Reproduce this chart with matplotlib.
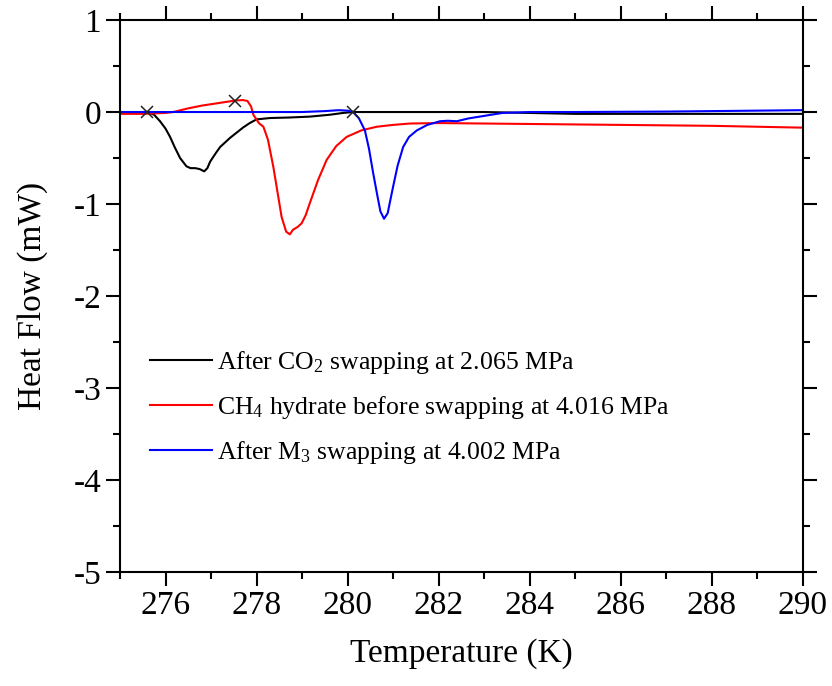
import matplotlib
matplotlib.use("Agg")
import matplotlib.pyplot as plt
from matplotlib.ticker import MultipleLocator

plt.rcParams['font.family'] = ['Liberation Serif', 'DejaVu Serif']
plt.rcParams['mathtext.fontset'] = 'custom'
plt.rcParams['mathtext.rm'] = 'Liberation Serif'
plt.rcParams['mathtext.it'] = 'Liberation Serif:italic'
plt.rcParams['axes.unicode_minus'] = False

# --- data ---
t_co2 = [275.0, 275.3, 275.6, 275.75, 275.88, 276.0, 276.1, 276.2, 276.32, 276.46,
         276.55, 276.65, 276.75, 276.85, 276.92, 276.98, 277.1, 277.2, 277.42, 277.7,
         277.85, 278.0, 278.3, 278.7, 279.17, 279.6, 279.9, 280.12, 281.0, 283.0,
         284.0, 285.0, 290.0]
hf_co2 = [0.0, 0.0, 0.0, -0.03, -0.1, -0.18, -0.27, -0.38, -0.5, -0.59,
          -0.61, -0.61, -0.62, -0.645, -0.61, -0.54, -0.45, -0.38, -0.28, -0.17,
          -0.12, -0.08, -0.065, -0.06, -0.05, -0.03, -0.01, 0.0, 0.0, 0.0,
          -0.01, -0.02, -0.02]

t_ch4 = [275.0, 275.5, 276.0, 276.17, 276.5, 276.8, 277.2, 277.53, 277.7, 277.8,
         277.88, 277.93, 278.05, 278.15, 278.25, 278.37, 278.47, 278.55, 278.65, 278.73,
         278.8, 278.9, 278.99, 279.08, 279.17, 279.35, 279.54, 279.75, 279.98, 280.3,
         280.64, 281.0, 281.37, 282.0, 283.0, 284.0, 285.0, 286.0, 287.0, 288.0,
         289.0, 290.0]
hf_ch4 = [-0.02, -0.02, -0.01, 0.0, 0.04, 0.07, 0.1, 0.125, 0.13, 0.12,
          0.06, -0.03, -0.12, -0.16, -0.3, -0.6, -0.9, -1.14, -1.3, -1.33,
          -1.28, -1.25, -1.21, -1.12, -0.99, -0.74, -0.52, -0.37, -0.27, -0.2,
          -0.16, -0.14, -0.125, -0.12, -0.125, -0.13, -0.135, -0.14, -0.145, -0.15,
          -0.16, -0.17]

t_m3 = [275.0, 279.0, 279.5, 279.8, 280.0, 280.12, 280.25, 280.38, 280.47, 280.56,
        280.65, 280.72, 280.8, 280.88, 280.95, 281.0, 281.1, 281.22, 281.35, 281.52,
        281.75, 282.03, 282.2, 282.4, 282.65, 282.9, 283.15, 283.4, 284.0, 285.0,
        287.0, 289.0, 290.0]
hf_m3 = [0.0, 0.0, 0.01, 0.02, 0.015, 0.0, -0.07, -0.2, -0.4, -0.66,
         -0.9, -1.08, -1.16, -1.1, -0.93, -0.81, -0.58, -0.38, -0.27, -0.2,
         -0.14, -0.1, -0.095, -0.1, -0.07, -0.05, -0.03, -0.01, 0.0, 0.0,
         0.005, 0.015, 0.02]

# onset markers
t_marks = [275.6, 277.53, 280.12]
hf_marks = [0.0, 0.12, 0.0]

labels = ['After CO$_2$ swapping at 2.065 MPa',
          'CH$_4$ hydrate before swapping at 4.016 MPa',
          'After M$_3$ swapping at 4.002 MPa']

fig = plt.figure(figsize=(8.32, 6.86), dpi=100)
ax = fig.add_axes([0.1442, 0.1662, 0.8208, 0.8046])

ax.plot(t_co2, hf_co2, color='black', lw=1.5, label=labels[0])
ax.plot(t_ch4, hf_ch4, color='red', lw=1.5, label=labels[1])
ax.plot(t_m3, hf_m3, color='blue', lw=1.5, label=labels[2])
ax.plot(t_marks, hf_marks, ls='none', marker='x', ms=8, mew=1.1, color='#222222')

ax.set_xlim(275, 290)
ax.set_ylim(-5, 1)
ax.xaxis.set_major_locator(MultipleLocator(2))
ax.xaxis.set_minor_locator(MultipleLocator(1))
ax.yaxis.set_major_locator(MultipleLocator(1))
ax.yaxis.set_minor_locator(MultipleLocator(0.5))
ax.set_xticks([276, 278, 280, 282, 284, 286, 288, 290])

ax.tick_params(which='both', direction='out', top=True, right=True,
               labeltop=False, labelright=False, width=1.5, labelsize=24)
ax.tick_params(which='major', length=10)
ax.tick_params(which='minor', length=5)
for sp in ax.spines.values():
    sp.set_linewidth(1.5)

ax.set_xlabel('Temperature (K)', fontsize=24, labelpad=12)
ax.set_ylabel('Heat Flow (mW)', fontsize=24, labelpad=18)

ax.legend(loc='upper left', bbox_to_anchor=(0.01, 0.445), frameon=False,
          fontsize=18.5, handlelength=2.4, handletextpad=0.2, labelspacing=0.7)

fig.savefig('out.png', dpi=100)
